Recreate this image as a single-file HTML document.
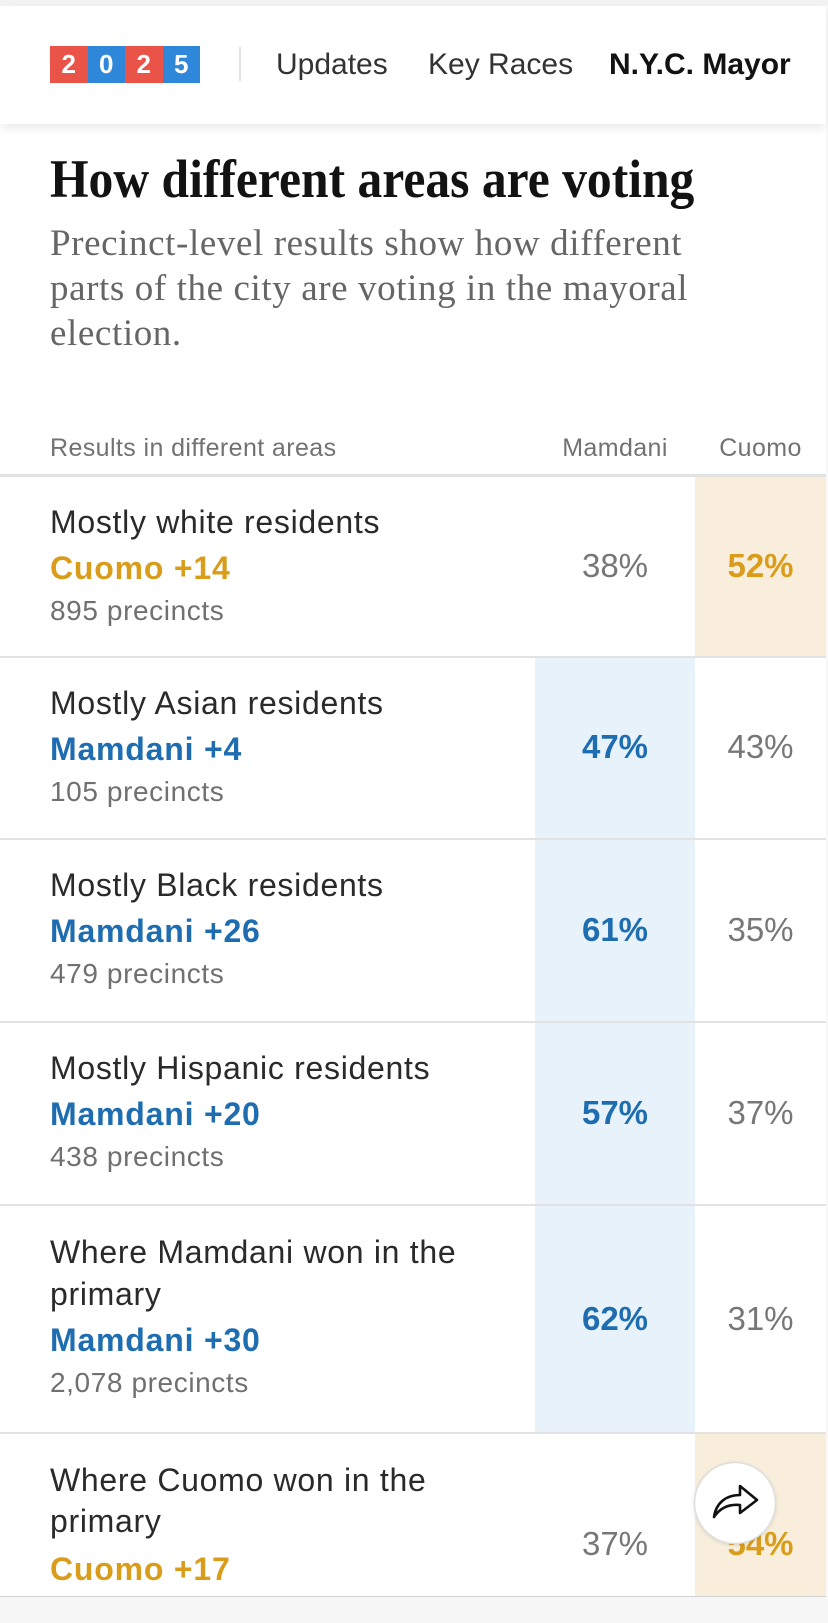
<!DOCTYPE html>
<html>
<head>
<meta charset="utf-8">
<style>
  html,body{margin:0;padding:0;}
  body{width:828px;height:1623px;position:relative;overflow:hidden;background:#fff;font-family:"Liberation Sans",Arial,sans-serif;}
  .abs{position:absolute;}
  .topstrip{left:0;top:0;width:828px;height:6px;background:#f3f3f3;}
  .header{left:0;top:6px;width:826px;height:118px;background:#fff;box-shadow:0 5px 9px rgba(0,0,0,0.07);z-index:2;}
  .logo{left:50px;top:46px;height:37px;display:flex;}
  .logo div{width:37.5px;height:37px;color:#fff;font-weight:bold;font-size:26px;line-height:37px;text-align:center;}
  .r{background:#ea5448;} .b{background:#2e87d8;}
  .divider{left:239px;top:47px;width:2px;height:34px;background:#e2e2e2;}
  .nav{font-size:30px;line-height:30px;color:#333;top:50px;}
  .title{left:50px;top:152px;font-family:"Liberation Serif",serif;font-weight:bold;font-size:54px;line-height:54px;color:#121212;white-space:nowrap;transform:scaleX(0.918);transform-origin:0 0;}
  .sub{left:50px;top:221px;font-family:"Liberation Serif",serif;font-size:37px;line-height:45px;letter-spacing:0.6px;color:#666;white-space:nowrap;}
  .th{font-size:25px;line-height:25px;color:#727272;letter-spacing:0.4px;top:436px;white-space:nowrap;}
  .line{left:0;width:826px;background:#e2e2e2;}
  .bg{position:absolute;}
  .blue{background:#e8f2fb;}
  .tan{background:#f9eedb;}
  .name{left:50px;font-size:32px;line-height:32px;letter-spacing:0.7px;color:#2a2a2a;white-space:nowrap;}
  .mg{left:50px;font-size:32px;line-height:32px;font-weight:bold;letter-spacing:0.8px;white-space:nowrap;}
  .gold{color:#d99d1b;}
  .bl{color:#1f6db1;}
  .pc{left:50px;font-size:28px;line-height:28px;letter-spacing:0.6px;color:#707070;white-space:nowrap;}
  .pct{font-size:33px;line-height:33px;text-align:center;white-space:nowrap;}
  .gray{color:#777;}
  .bold{font-weight:bold;}
</style>
</head>
<body>
<div class="abs topstrip"></div>
<div class="abs header">
</div>
<div class="abs logo" style="z-index:3"><div class="r">2</div><div class="b">0</div><div class="r">2</div><div class="b">5</div></div>
<div class="abs divider" style="z-index:3"></div>
<div class="abs nav" style="left:276px;z-index:3">Updates</div>
<div class="abs nav" style="left:428px;z-index:3">Key Races</div>
<div class="abs nav" style="left:609px;font-weight:bold;color:#121212;z-index:3">N.Y.C. Mayor</div>

<div class="abs title">How different areas are voting</div>
<div class="abs sub">Precinct-level results show how different<br>parts of the city are voting in the mayoral<br>election.</div>

<div class="abs th" style="left:50px;">Results in different areas</div>
<div class="abs th" style="left:535px;width:160px;text-align:center;">Mamdani</div>
<div class="abs th" style="left:695px;width:131px;text-align:center;">Cuomo</div>

<!-- column backgrounds -->
<div class="bg tan" style="left:695px;top:477px;width:131px;height:179px;"></div>
<div class="bg blue" style="left:535px;top:658px;width:160px;height:180px;"></div>
<div class="bg blue" style="left:535px;top:840px;width:160px;height:181px;"></div>
<div class="bg blue" style="left:535px;top:1023px;width:160px;height:181px;"></div>
<div class="bg blue" style="left:535px;top:1206px;width:160px;height:226px;"></div>
<div class="bg tan" style="left:695px;top:1434px;width:131px;height:162px;"></div>

<!-- lines -->
<div class="abs line" style="top:474px;height:3px;"></div>
<div class="abs line" style="top:656px;height:2px;"></div>
<div class="abs line" style="top:838px;height:2px;"></div>
<div class="abs line" style="top:1021px;height:2px;"></div>
<div class="abs line" style="top:1204px;height:2px;"></div>
<div class="abs line" style="top:1432px;height:2px;"></div>
<div class="abs line" style="top:1596px;height:1px;background:#cfcfcf;"></div>
<div class="abs" style="left:0;top:1597px;width:828px;height:26px;background:#f7f7f7;"></div>
<div class="abs" style="left:826px;top:6px;width:2px;height:1591px;background:#f8f8f8;"></div>

<!-- Row 1 -->
<div class="abs name" style="top:506px;">Mostly white residents</div>
<div class="abs mg gold" style="top:552px;">Cuomo +14</div>
<div class="abs pc" style="top:597px;">895 precincts</div>
<div class="abs pct gray" style="left:535px;width:160px;top:549px;">38%</div>
<div class="abs pct gold bold" style="left:695px;width:131px;top:549px;">52%</div>

<!-- Row 2 -->
<div class="abs name" style="top:687px;">Mostly Asian residents</div>
<div class="abs mg bl" style="top:733px;">Mamdani +4</div>
<div class="abs pc" style="top:778px;">105 precincts</div>
<div class="abs pct bl bold" style="left:535px;width:160px;top:730px;">47%</div>
<div class="abs pct gray" style="left:695px;width:131px;top:730px;">43%</div>

<!-- Row 3 -->
<div class="abs name" style="top:869px;">Mostly Black residents</div>
<div class="abs mg bl" style="top:915px;">Mamdani +26</div>
<div class="abs pc" style="top:960px;">479 precincts</div>
<div class="abs pct bl bold" style="left:535px;width:160px;top:913px;">61%</div>
<div class="abs pct gray" style="left:695px;width:131px;top:913px;">35%</div>

<!-- Row 4 -->
<div class="abs name" style="top:1052px;">Mostly Hispanic residents</div>
<div class="abs mg bl" style="top:1098px;">Mamdani +20</div>
<div class="abs pc" style="top:1143px;">438 precincts</div>
<div class="abs pct bl bold" style="left:535px;width:160px;top:1096px;">57%</div>
<div class="abs pct gray" style="left:695px;width:131px;top:1096px;">37%</div>

<!-- Row 5 -->
<div class="abs name" style="top:1236px;">Where Mamdani won in the</div>
<div class="abs name" style="top:1278px;">primary</div>
<div class="abs mg bl" style="top:1324px;">Mamdani +30</div>
<div class="abs pc" style="top:1369px;">2,078 precincts</div>
<div class="abs pct bl bold" style="left:535px;width:160px;top:1302px;">62%</div>
<div class="abs pct gray" style="left:695px;width:131px;top:1302px;">31%</div>

<!-- Row 6 (clipped) -->
<div class="abs" style="left:0;top:1434px;width:826px;height:162px;overflow:hidden;">
  <div class="abs name" style="top:30px;">Where Cuomo won in the</div>
  <div class="abs name" style="top:71px;">primary</div>
  <div class="abs mg gold" style="top:119px;">Cuomo +17</div>
  <div class="abs pct gray" style="left:535px;width:160px;top:93px;">37%</div>
  <div class="abs pct gold bold" style="left:695px;width:131px;top:93px;">54%</div>
</div>

<!-- share button -->
<svg class="abs" style="left:690px;top:1458px;z-index:5;" width="90" height="90" viewBox="0 0 90 90">
  <defs>
    <filter id="sh" x="-20%" y="-20%" width="140%" height="140%">
      <feDropShadow dx="0" dy="1" stdDeviation="1.5" flood-color="#000" flood-opacity="0.12"/>
    </filter>
  </defs>
  <circle cx="45" cy="45" r="40.5" fill="#fff" stroke="#dedede" stroke-width="1.5" filter="url(#sh)"/>
  <path d="M24 59 C26 45 36 37 50 37 L50 28 L67 42 L50 55 L50 47 C39 46 30 50 24 59 Z" fill="none" stroke="#111" stroke-width="2.6" stroke-linejoin="round"/>
</svg>
</body>
</html>
